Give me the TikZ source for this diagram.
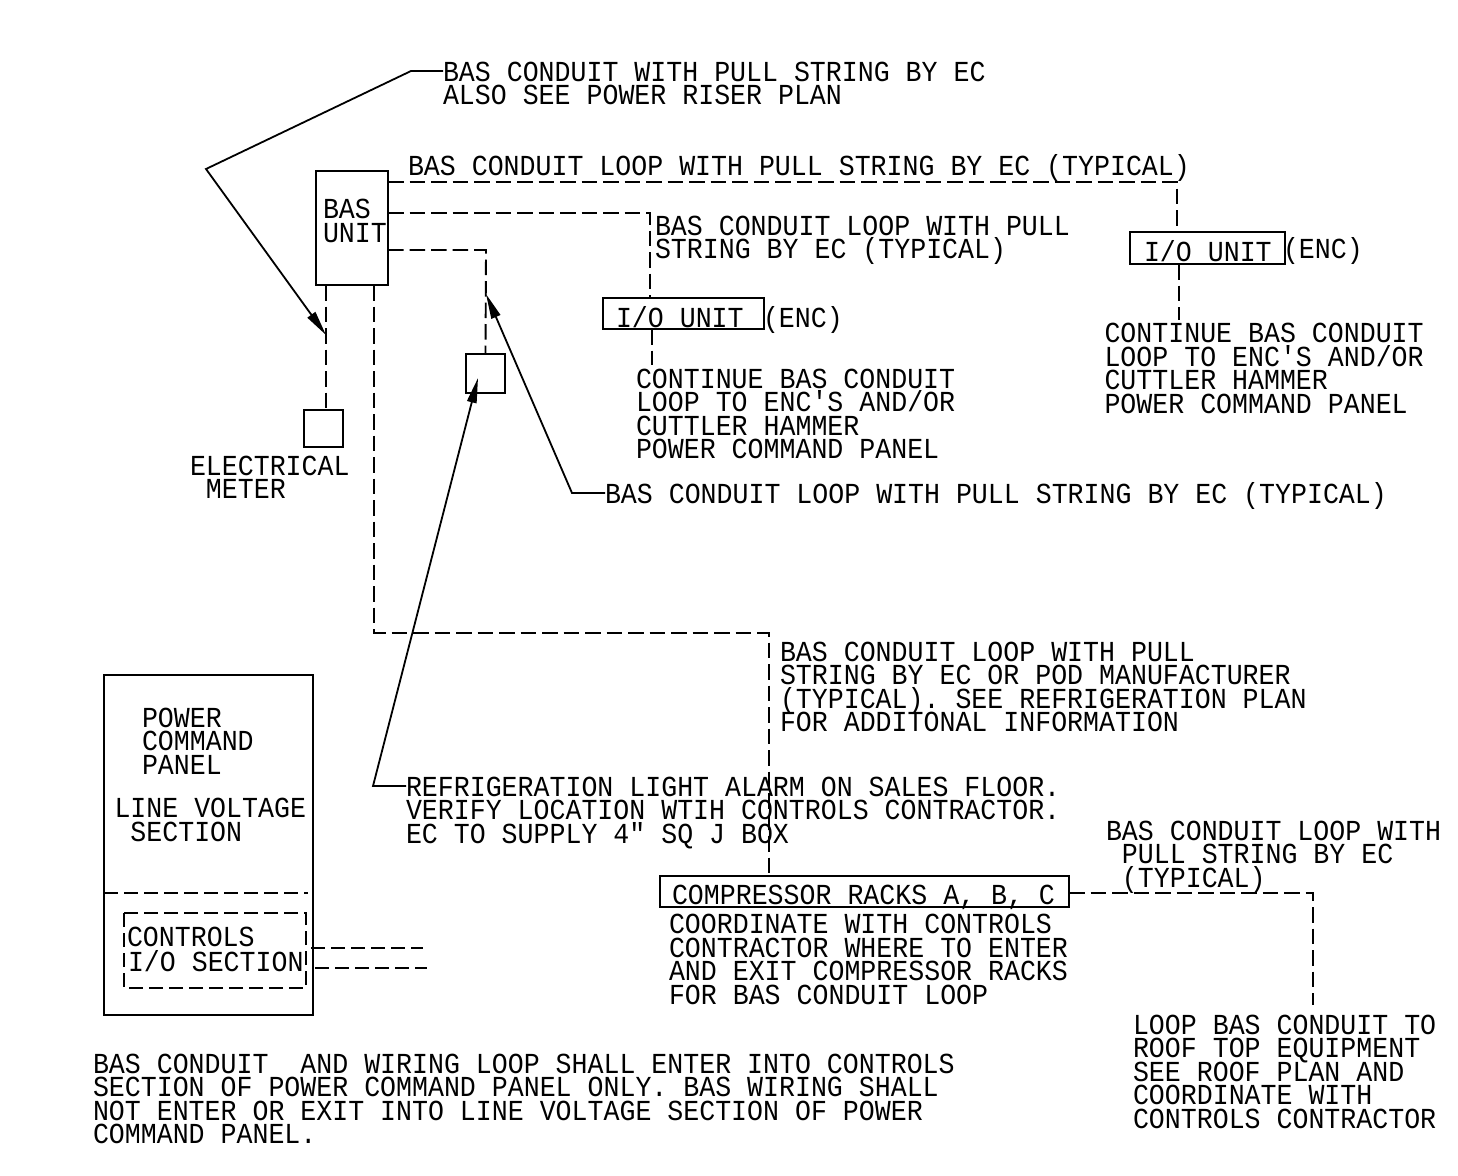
\documentclass[tikz,border=0pt]{standalone}
\usepackage{fontspec}
\usetikzlibrary{arrows.meta}
\newfontfamily\cadfont[FakeStretch=0.917]{Liberation Mono}
\lineskiplimit=-100pt
\normallineskiplimit=-100pt
\newcommand{\firstln}{\vrule width 0pt height 20pt depth 0pt\relax}
\newcommand{\Tx}[4]{\node[txt] (#1) at (#2,#3) {\firstln #4};}
\tikzset{
  txt/.style={anchor=north west,yshift=20pt,inner sep=0pt,outer sep=0pt,align=left,text=black,
    font=\cadfont\fontsize{29}{23.65}\selectfont},
  boxn/.style={draw=black,line width=2pt,rectangle,inner sep=0pt,outer sep=0pt,minimum width=#1},
  wire/.style={draw=black,line width=1.9pt,dash pattern=on 15.5pt off 6pt},
  thinwire/.style={draw=black,line width=1.6pt,dash pattern=on 14pt off 6pt},
  leader/.style={draw=black,line width=1.8pt,-{Triangle[length=25pt,width=9.5pt]}},
}
\begin{document}
\begin{tikzpicture}[x=1pt,y=-1pt]
\useasboundingbox (0,0) rectangle (1458,1175);
% boxes
\node[boxn=72pt,minimum height=114pt] (bas) at (352,228) {};
\node[boxn=161pt,minimum height=31pt] (io1) at (683.5,313.5) {};
\node[boxn=155pt,minimum height=32pt] (io2) at (1207.5,248) {};
\node[boxn=39pt,minimum height=37pt] (meter) at (323.5,428.5) {};
\node[boxn=39pt,minimum height=39pt] (jbox) at (485.5,373.5) {};
\node[boxn=209pt,minimum height=340pt] (panel) at (208.5,845) {};
\node[boxn=409pt,minimum height=31pt] (racks) at (864.5,891.5) {};
% free ends
\coordinate (topnote) at (443,71);
\coordinate (lk1) at (411,71);
\coordinate (lk2) at (206,169);
\coordinate (tipa) at (326,335);
\coordinate (midnote) at (605,493);
\coordinate (lk3) at (572,493);
\coordinate (tipb) at (486,294);
\coordinate (refnote) at (406,786);
\coordinate (lk4) at (373,786);
\coordinate (tipc) at (478,378);
\coordinate (endio1) at (652,365);
\coordinate (endio2) at (1179,320);
\coordinate (endrack) at (1313,1005);
\coordinate (a1) at (124,913);
\coordinate (a2) at (306,988);
\coordinate (s1) at (104,893);
\coordinate (s2) at (308,893);
\coordinate (p1) at (311,948);
\coordinate (p2) at (423,948);
\coordinate (p3) at (315,968);
\coordinate (p4) at (427,968);
% dashed conduits
\draw[wire] ([yshift=-11pt]bas.north east) -- (1177,182) -- (io2.north -| 1177,0);
\draw[wire] ([yshift=-42pt]bas.north east) -- (650,213) -- (io1.north -| 650,0);
\draw[wire] ([yshift=-79pt]bas.north east) -- (486,250) -- (jbox.north);
\draw[wire] ([xshift=10pt]bas.south west) -- (meter.north -| 326,0);
\draw[wire] ([xshift=58pt]bas.south west) -- (374,633) -- (769,633) -- (racks.north -| 769,0);
\draw[wire] ([yshift=-17pt]racks.north east) -- (1313,893) -- (endrack);
\draw[wire] (io1.south -| 652,0) -- (endio1);
\draw[wire] (io2.south -| 1179,0) -- (endio2);
% panel dashes
\draw[thinwire] (s1) -- (s2);
\draw[thinwire] (a1) rectangle (a2);
\draw[thinwire] (p1) -- (p2);
\draw[thinwire] (p3) -- (p4);
% leaders
\draw[leader] (topnote) -- (lk1) -- (lk2) -- (tipa);
\draw[leader] (midnote) -- (lk3) -- (tipb);
\draw[leader] (refnote) -- (lk4) -- (tipc);
% texts
\Tx{t1}{443}{81}{BAS CONDUIT WITH PULL STRING BY EC\\ALSO SEE POWER RISER PLAN}
\Tx{t2}{408}{174}{BAS CONDUIT LOOP WITH PULL STRING BY EC (TYPICAL)}
\Tx{t3}{323}{218.5}{BAS\\UNIT}
\Tx{t4}{655}{235}{BAS CONDUIT LOOP WITH PULL\\STRING BY EC (TYPICAL)}
\Tx{t5}{616}{326}{I/O UNIT}
\Tx{t6}{763}{326}{(ENC)}
\Tx{t7}{1144}{260.5}{I/O UNIT}
\Tx{t8}{1283}{257}{(ENC)}
\Tx{t9}{636}{388}{CONTINUE BAS CONDUIT\\LOOP TO ENC'S AND/OR\\CUTTLER HAMMER\\POWER COMMAND PANEL}
\Tx{t10}{1104.5}{342.5}{CONTINUE BAS CONDUIT\\LOOP TO ENC'S AND/OR\\CUTTLER HAMMER\\POWER COMMAND PANEL}
\Tx{t11}{605}{502}{BAS CONDUIT LOOP WITH PULL STRING BY EC (TYPICAL)}
\Tx{t12}{190}{475}{ELECTRICAL\\~METER}
\Tx{t13}{142}{727}{POWER\\COMMAND\\PANEL}
\Tx{t14}{114.5}{817.5}{LINE VOLTAGE\\~SECTION}
\Tx{t15}{127}{946}{CONTROLS}
\Tx{t16}{128}{970}{I/O SECTION}
\Tx{t17}{93}{1073}{BAS CONDUIT~~AND WIRING LOOP SHALL ENTER INTO CONTROLS\\SECTION OF POWER COMMAND PANEL ONLY. BAS WIRING SHALL\\NOT ENTER OR EXIT INTO LINE VOLTAGE SECTION OF POWER\\COMMAND PANEL.}
\Tx{t18}{406}{796}{REFRIGERATION LIGHT ALARM ON SALES FLOOR.\\VERIFY LOCATION WTIH CONTROLS CONTRACTOR.\\EC TO SUPPLY 4″ SQ J BOX}
\Tx{t19}{780}{661}{BAS CONDUIT LOOP WITH PULL\\STRING BY EC OR POD MANUFACTURER\\(TYPICAL). SEE REFRIGERATION PLAN\\FOR ADDITONAL INFORMATION}
\Tx{t20}{672}{904}{COMPRESSOR RACKS A, B, C}
\Tx{t21}{669}{933.5}{COORDINATE WITH CONTROLS\\CONTRACTOR WHERE TO ENTER\\AND EXIT COMPRESSOR RACKS\\FOR BAS CONDUIT LOOP}
\Tx{t22}{1106}{840}{BAS CONDUIT LOOP WITH\\~PULL STRING BY EC\\~(TYPICAL)}
\Tx{t23}{1133}{1034}{LOOP BAS CONDUIT TO\\ROOF TOP EQUIPMENT\\SEE ROOF PLAN AND\\COORDINATE WITH\\CONTROLS CONTRACTOR}
\end{tikzpicture}
\end{document}
